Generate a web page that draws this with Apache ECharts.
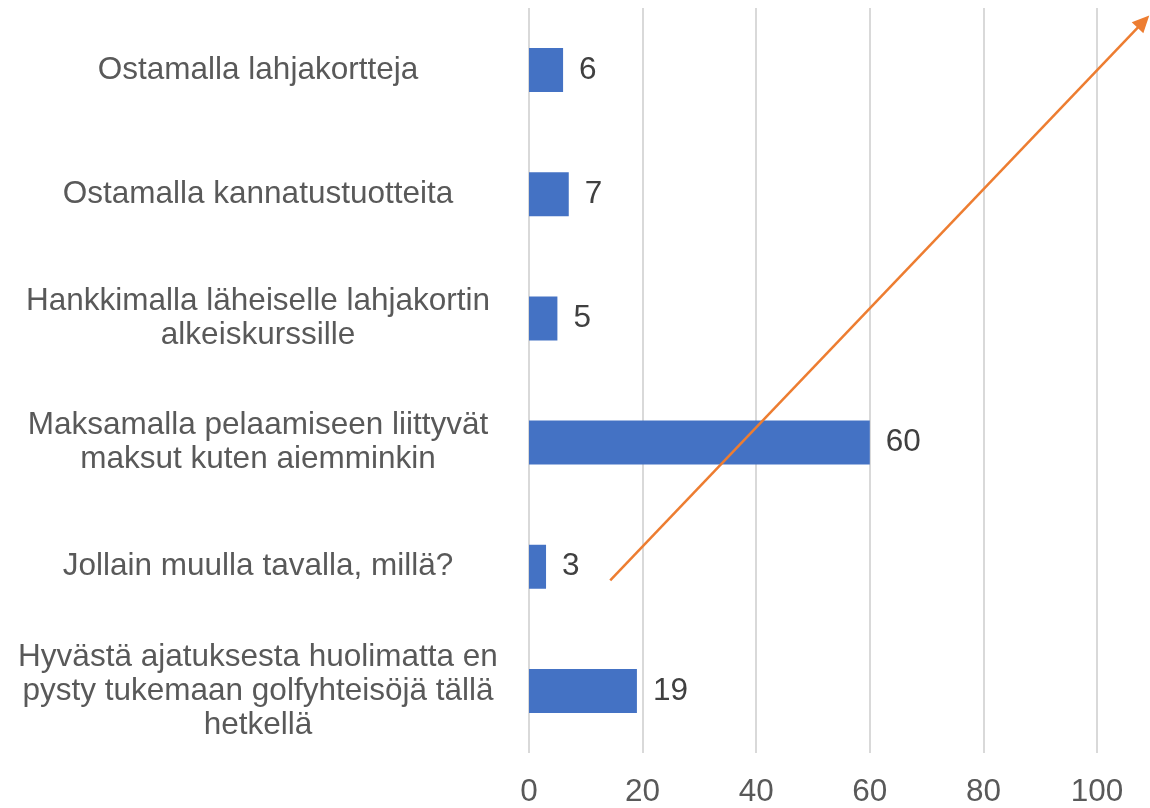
<!DOCTYPE html>
<html lang="fi">
<head>
  <meta charset="UTF-8">
  <title>Golfyhteisöjen tukeminen</title>
  <script src="https://cdn.jsdelivr.net/npm/echarts@6/dist/echarts.min.js"></script>
  <style>
    html, body { margin: 0; padding: 0; background: #fff; }
    #chart { width: 1150px; height: 808px; }
  </style>
</head>
<body>
  <div id="chart"></div>
  <script>
    // top to bottom
    const categories = [
      'Ostamalla lahjakortteja',
      'Ostamalla kannatustuotteita',
      'Hankkimalla läheiselle lahjakortin\nalkeiskurssille',
      'Maksamalla pelaamiseen liittyvät\nmaksut kuten aiemminkin',
      'Jollain muulla tavalla, millä?',
      'Hyvästä ajatuksesta huolimatta en\npysty tukemaan golfyhteisöjä tällä\nhetkellä'
    ];
    const values = [6, 7, 5, 60, 3, 19];
    const xTicks = [0, 20, 40, 60, 80, 100];

    // orange arrow (start, tip), in axis units: x on value axis, y on 0..6 (bottom..top)
    const arrowStart = [14.3, 1.39];
    const arrowEnd = [109.2, 5.94];

    const chart = echarts.init(document.getElementById('chart'));
    const font = 'Liberation Sans';
    const fs = 31.5;
    const orange = '#ed7d31';

    function renderArrow(params, api) {
      const p0 = api.coord([api.value(0), api.value(1)]);
      const p1 = api.coord([api.value(2), api.value(3)]);
      const dx = p1[0] - p0[0], dy = p1[1] - p0[1];
      const len = Math.sqrt(dx * dx + dy * dy);
      const ux = dx / len, uy = dy / len;
      const headLen = 17, headW = 8;
      const bx = p1[0] - ux * headLen, by = p1[1] - uy * headLen;
      return {
        type: 'group',
        children: [{
          type: 'line',
          shape: { x1: p0[0], y1: p0[1], x2: bx + ux * 2, y2: by + uy * 2 },
          style: { stroke: orange, lineWidth: 2.5 }
        }, {
          type: 'polygon',
          shape: {
            points: [
              [p1[0], p1[1]],
              [bx - uy * headW, by + ux * headW],
              [bx + uy * headW, by - ux * headW]
            ]
          },
          style: { fill: orange }
        }]
      };
    }

    chart.setOption({
      animation: false,
      grid: { left: 529, right: 53, top: 8, bottom: 54 },
      xAxis: {
        type: 'value',
        min: xTicks[0],
        max: xTicks[xTicks.length - 1],
        interval: 20,
        axisLine: { show: false },
        axisTick: { show: false },
        splitLine: { lineStyle: { color: '#d9d9d9', width: 2 } },
        axisLabel: { fontFamily: font, fontSize: fs, color: '#595959', margin: 23 }
      },
      yAxis: [{
        type: 'category',
        inverse: true,
        data: categories,
        axisLine: { show: false },
        axisTick: { show: false },
        axisLabel: {
          fontFamily: font, fontSize: fs, color: '#595959',
          lineHeight: 34, align: 'center', margin: 271
        }
      }, {
        type: 'value',
        min: 0,
        max: 6,
        show: false
      }],
      series: [{
        type: 'bar',
        data: values,
        barWidth: 44,
        itemStyle: { color: '#4472c4' },
        label: {
          show: true,
          position: 'right',
          distance: 16,
          fontFamily: font,
          fontSize: fs,
          color: '#404040'
        }
      }, {
        type: 'custom',
        yAxisIndex: 1,
        z: 10,
        clip: false,
        silent: true,
        renderItem: renderArrow,
        data: [[arrowStart[0], arrowStart[1], arrowEnd[0], arrowEnd[1]]]
      }]
    });
  </script>
</body>
</html>
